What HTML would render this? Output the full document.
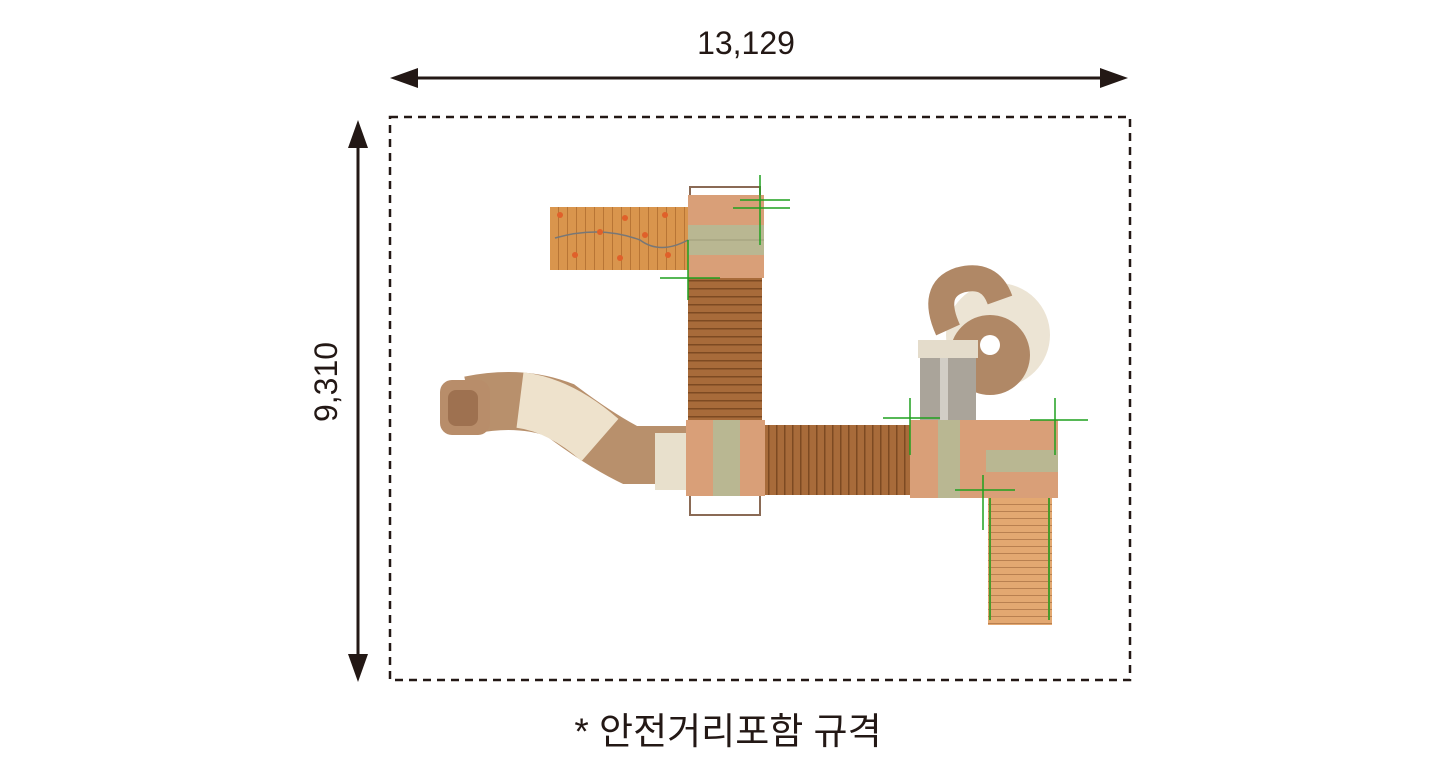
<!DOCTYPE html>
<html><head><meta charset="utf-8"><style>
body{margin:0;width:1442px;height:778px;background:#fff;overflow:hidden;font-family:"Liberation Sans","Noto Sans CJK KR",sans-serif}
</style></head><body>
<svg width="1442" height="778" xmlns="http://www.w3.org/2000/svg">
<defs>
<pattern id="wv" width="9" height="10" patternUnits="userSpaceOnUse"><rect width="9" height="10" fill="#d9954d"/><rect width="1" height="10" fill="#b87535"/></pattern>
<pattern id="dh" width="10" height="8" patternUnits="userSpaceOnUse"><rect width="10" height="8" fill="#a86b3a"/><rect width="10" height="1.5" fill="#7d4a22"/></pattern>
<pattern id="dv" width="8" height="10" patternUnits="userSpaceOnUse"><rect width="8" height="10" fill="#a86b3a"/><rect width="1.5" height="10" fill="#7d4a22"/></pattern>
<pattern id="sh" width="10" height="7" patternUnits="userSpaceOnUse"><rect width="10" height="7" fill="#e3a871"/><rect width="10" height="1" fill="#b98050"/></pattern>
</defs>
<line x1="400" y1="78" x2="1116" y2="78" stroke="#231815" stroke-width="3"/>
<polygon points="390,78 418,68 418,88" fill="#231815"/>
<polygon points="1128,78 1100,68 1100,88" fill="#231815"/>
<line x1="358" y1="132" x2="358" y2="670" stroke="#231815" stroke-width="3"/>
<polygon points="358,120 348,148 368,148" fill="#231815"/>
<polygon points="358,682 348,654 368,654" fill="#231815"/>
<text x="746" y="54" font-size="32" text-anchor="middle" fill="#231815">13,129</text>
<text transform="translate(337,382) rotate(-90)" font-size="32" text-anchor="middle" fill="#231815">9,310</text>
<rect x="390" y="117" width="740" height="563" fill="none" stroke="#231815" stroke-width="2.5" stroke-dasharray="8,6"/>
<text x="728" y="744" font-size="37" text-anchor="middle" fill="#231815">* 안전거리포함 규격</text>

<path d="M470,405 Q520,395 560,410 Q600,440 630,455 L686,455" fill="none" stroke="#b8906c" stroke-width="58"/>
<path d="M520,400 Q560,405 600,440" fill="none" stroke="#eee2cc" stroke-width="56"/>
<rect x="655" y="433" width="31" height="57" fill="#e8e0cc"/>
<rect x="440" y="380" width="50" height="55" rx="12" fill="#b88d6a"/>
<rect x="448" y="390" width="30" height="36" rx="8" fill="#9e7150"/>

<circle cx="998" cy="335" r="52" fill="#ece4d4"/>
<circle cx="990" cy="355" r="40" fill="#b08866"/>
<circle cx="990" cy="345" r="10" fill="#fff"/>
<path d="M948,330 Q930,290 960,280 Q990,272 1000,300" fill="none" stroke="#b08866" stroke-width="26"/>
<rect x="920" y="345" width="56" height="78" fill="#aaa49a"/>
<rect x="918" y="340" width="60" height="18" fill="#e4dccb"/>
<rect x="940" y="358" width="8" height="62" fill="#d2cec6"/>

<rect x="550" y="207" width="138" height="63" fill="url(#wv)"/>
<path d="M555,238 Q600,225 640,240 Q660,255 688,240" fill="none" stroke="#777" stroke-width="1.5"/>
<g fill="#e0602a"><circle cx="560" cy="215" r="3"/><circle cx="600" cy="232" r="3"/><circle cx="625" cy="218" r="3"/><circle cx="575" cy="255" r="3"/><circle cx="620" cy="258" r="3"/><circle cx="645" cy="235" r="3"/><circle cx="668" cy="255" r="3"/><circle cx="665" cy="215" r="3"/></g>
<rect x="688" y="195" width="76" height="83" fill="#d99f78"/>
<rect x="688" y="225" width="76" height="30" fill="#b9b792"/>
<line x1="688" y1="240" x2="764" y2="240" stroke="#9f9d7a"/>
<path d="M690,195 V187 H760 V195" fill="none" stroke="#8a6a55" stroke-width="2"/>
<rect x="688" y="278" width="74" height="142" fill="url(#dh)"/>
<rect x="686" y="420" width="79" height="76" fill="#d99f78"/>
<rect x="713" y="420" width="27" height="76" fill="#b9b792"/>
<path d="M690,496 V515 H760 V496" fill="none" stroke="#8a6a55" stroke-width="2"/>
<rect x="765" y="425" width="145" height="70" fill="url(#dv)"/>
<rect x="910" y="420" width="76" height="78" fill="#d99f78"/>
<rect x="938" y="420" width="22" height="78" fill="#b9b792"/>
<rect x="986" y="420" width="72" height="78" fill="#d99f78"/>
<rect x="986" y="450" width="72" height="22" fill="#b9b792"/>
<rect x="988" y="498" width="64" height="127" fill="url(#sh)"/>
<line x1="990" y1="498" x2="990" y2="620" stroke="#4a9a2a" stroke-width="2"/>
<line x1="1049" y1="498" x2="1049" y2="620" stroke="#4a9a2a" stroke-width="2"/>
<g stroke="#1fa01f" stroke-width="1.5">
<line x1="760" y1="175" x2="760" y2="245"/><line x1="740" y1="200" x2="790" y2="200"/><line x1="733" y1="208" x2="790" y2="208"/>
<line x1="688" y1="240" x2="688" y2="300"/><line x1="660" y1="278" x2="720" y2="278"/>
<line x1="910" y1="398" x2="910" y2="455"/><line x1="883" y1="418" x2="940" y2="418"/>
<line x1="1055" y1="398" x2="1055" y2="455"/><line x1="1030" y1="420" x2="1088" y2="420"/>
<line x1="983" y1="475" x2="983" y2="530"/><line x1="955" y1="490" x2="1015" y2="490"/>
</g>
</svg>
</body></html>
